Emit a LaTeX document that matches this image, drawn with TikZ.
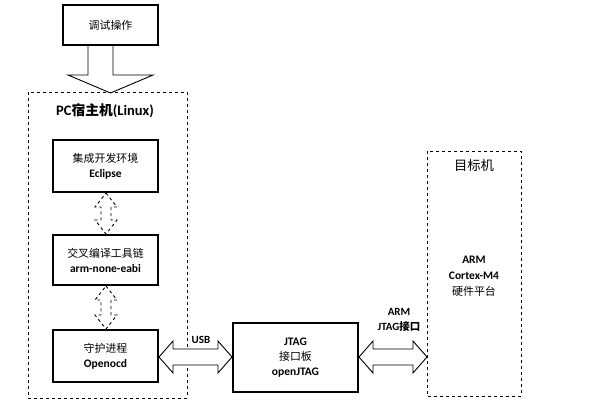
\documentclass[tikz,border=0pt]{standalone}
\usepackage{fontspec}
\setmainfont{Carlito}
\newfontfamily\cjk{Noto Sans CJK SC}[Scale=0.95]
\begin{document}
\begin{tikzpicture}[x=1pt,y=-1pt,
  box/.style={draw,line width=2pt,minimum width=105pt,align=center,font=\fontsize{11.5}{15}\selectfont\bfseries,inner sep=2pt},
  dbox/.style={draw,dashed,line width=0.9pt},
  harr/.style={draw,line width=0.9pt,fill=white},
  varr/.style={draw,dashed,line width=0.9pt}]
\useasboundingbox (0,0) rectangle (601,405);
\newcommand\harrw[3]{\path[harr] (#1,#3) -- (#1+14,#3-16) -- (#1+14,#3-8) -- (#2-14,#3-8) -- (#2-14,#3-16) -- (#2,#3) -- (#2-14,#3+16) -- (#2-14,#3+8) -- (#1+14,#3+8) -- (#1+14,#3+16) -- cycle;}
\newcommand\varrw[3]{\path[varr] (#1,#2) -- (#1+11,#2+14) -- (#1+5,#2+14) -- (#1+5,#3-14) -- (#1+11,#3-14) -- (#1,#3) -- (#1-11,#3-14) -- (#1-5,#3-14) -- (#1-5,#2+14) -- (#1-11,#2+14) -- cycle;}
% top
\node[box,minimum width=95pt,minimum height=40pt,font=\cjk\fontsize{11.5}{14}\selectfont] (op) at (110.5,25) {调试操作};
\path[draw,line width=0.9pt] (88,45) -- (88,75) -- (68,75) -- (110.5,93) -- (153,75) -- (113,75) -- (113,45);
% PC box
\draw[dbox] (28,92) rectangle (187,398);
\node[font=\fontsize{14.5}{17}\selectfont\bfseries] (pc) at (105,111) {PC{\cjk 宿主机}(Linux)};
\node[box,minimum height=52pt] (b1) at (105.5,166) {{\cjk\mdseries 集成开发环境}\\Eclipse};
\node[box,minimum height=50pt] (b2) at (105.5,260) {{\cjk\mdseries 交叉编译工具链}\\arm-none-eabi};
\node[box,minimum height=52pt] (b3) at (105.5,356) {{\cjk\mdseries 守护进程}\\Openocd};
\varrw{106}{193}{234}
\varrw{106}{286}{329}
% JTAG
\node[box,minimum width=125pt,minimum height=69pt] (jt) at (295.5,357.5) {JTAG\\{\cjk\mdseries 接口板}\\openJTAG};
\harrw{159}{232}{357}
\node[font=\fontsize{11}{13}\selectfont\bfseries] (usb) at (201,340) {USB};
\harrw{359}{427}{357}
\node[align=center,font=\fontsize{11}{15}\selectfont\bfseries] (arml) at (399,320) {ARM\\JTAG{\cjk 接口}};
% target
\draw[dbox] (427,151) rectangle (521,396);
\node[font=\cjk\fontsize{14}{16}\selectfont] (tg) at (474,165) {目标机};
\node[align=center,font=\fontsize{11.5}{16}\selectfont\bfseries] (arm) at (474,276) {ARM\\Cortex-M4\\{\cjk\mdseries 硬件平台}};
\end{tikzpicture}
\end{document}
